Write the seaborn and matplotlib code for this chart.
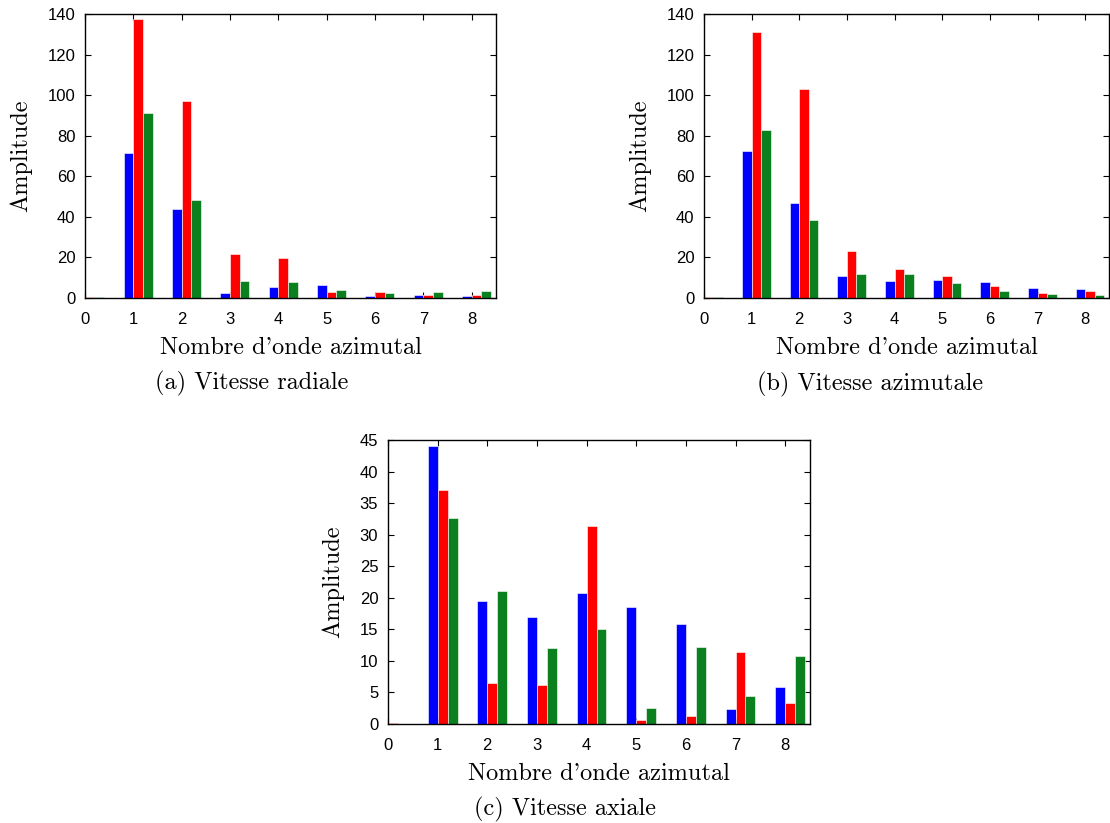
import numpy as np
import pandas as pd
import matplotlib
matplotlib.use("Agg")
import matplotlib.pyplot as plt
import seaborn as sns

# azimuthal wavenumbers
modes = [0, 1, 2, 3, 4, 5, 6, 7, 8]
series_names = ["cas 1", "cas 2", "cas 3"]
colors = ["#0000ff", "#ff0000", "#0b801e"]

# (a) radial velocity
radial_s1 = [0.2, 71.5, 44.1, 2.6, 5.6, 6.2, 1.0, 1.3, 0.8]
radial_s2 = [0.5, 137.5, 97.2, 21.5, 19.5, 2.8, 2.8, 1.5, 1.5]
radial_s3 = [0.3, 91.0, 48.2, 8.5, 7.7, 3.9, 2.6, 2.8, 3.4]

# (b) azimuthal velocity
azim_s1 = [0.2, 72.3, 47.0, 10.7, 8.2, 8.7, 7.7, 4.8, 4.3]
azim_s2 = [0.5, 131.1, 103.1, 23.4, 14.1, 10.7, 6.1, 2.3, 3.3]
azim_s3 = [0.3, 83.0, 38.4, 11.8, 11.6, 7.5, 3.6, 1.8, 1.3]

# (c) axial velocity
axial_s1 = [0.05, 44.0, 19.5, 17.0, 20.8, 18.6, 15.8, 2.3, 5.9]
axial_s2 = [0.1, 37.1, 6.5, 6.2, 31.4, 0.7, 1.2, 11.4, 3.4]
axial_s3 = [0.05, 32.6, 21.0, 12.1, 15.0, 2.5, 12.2, 4.4, 10.7]

sns.set_style("ticks")
plt.rcParams["font.family"] = ["Liberation Sans", "DejaVu Sans"]
plt.rcParams["text.color"] = "black"
plt.rcParams["xtick.color"] = "black"
plt.rcParams["ytick.color"] = "black"
serif = ["cmr10", "DejaVu Serif"]
LBL = 17.5


def make_df(s1, s2, s3):
    rows = []
    for name, vals in zip(series_names, [s1, s2, s3]):
        for m, v in zip(modes, vals):
            rows.append({"mode": m, "pos": m + 0.1, "amp": v, "serie": name})
    return pd.DataFrame(rows)


def draw(ax, df, ymax, ystep):
    sns.barplot(data=df, x="pos", y="amp", hue="serie", hue_order=series_names,
                palette=colors, saturation=1, native_scale=True, width=0.6,
                dodge=True, edgecolor="white", linewidth=0.4, legend=False, ax=ax)
    ax.set_xlim(0, 8.5)
    ax.set_ylim(0, ymax)
    ax.set_xticks(modes)
    ax.set_xticklabels([str(m) for m in modes])
    ax.set_yticks(np.arange(0, ymax + 1, ystep))
    ax.tick_params(direction="in", length=4.5, width=0.8, top=True, right=True,
                   labelsize=12, color="black", labelcolor="black")
    ax.tick_params(axis="x", pad=10)
    ax.tick_params(axis="y", pad=7)
    for sp in ax.spines.values():
        sp.set_linewidth(1.0)
        sp.set_color("black")
    ax.set_xlabel("Nombre d'onde azimutal", family=serif, fontsize=LBL,
                  labelpad=7, color="black")
    ax.set_ylabel("Amplitude", family=serif, fontsize=LBL, labelpad=11,
                  color="black")


fig = plt.figure(figsize=(11.1, 8.23), dpi=100)
W, H = 1110, 823
ax_a = fig.add_axes([85 / W, 1 - 298 / H, 411 / W, 284 / H])
ax_b = fig.add_axes([704 / W, 1 - 298 / H, 405 / W, 284 / H])
ax_c = fig.add_axes([388 / W, 1 - 724 / H, 422 / W, 284 / H])

draw(ax_a, make_df(radial_s1, radial_s2, radial_s3), 140, 20)
draw(ax_b, make_df(azim_s1, azim_s2, azim_s3), 140, 20)
draw(ax_c, make_df(axial_s1, axial_s2, axial_s3), 45, 5)

fig.text(252 / W, 1 - 383 / H, "(a) Vitesse radiale", family=serif, fontsize=LBL,
         ha="center", va="center")
fig.text(870 / W, 1 - 384 / H, "(b) Vitesse azimutale", family=serif, fontsize=LBL,
         ha="center", va="center")
fig.text(565 / W, 1 - 809 / H, "(c) Vitesse axiale", family=serif, fontsize=LBL,
         ha="center", va="center")

fig.savefig("out.png", dpi=100)
